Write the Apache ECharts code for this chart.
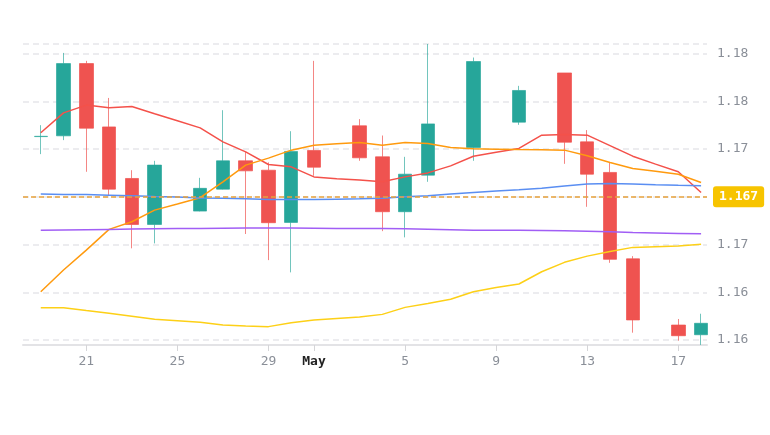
<!DOCTYPE html>
<html>
<head>
<meta charset="utf-8">
<script src="https://cdn.jsdelivr.net/npm/echarts@6/dist/echarts.min.js"></script>
<style>
  html, body { margin: 0; padding: 0; background: #fff; }
  #main { width: 770px; height: 435px; }
</style>
</head>
<body>
<div id="main"></div>
<script>
// day index 0 = Apr 19 ... 29 = May 18
var candleDays = [0, 1, 2, 3, 4, 5, 7, 8, 9, 10, 11, 12, 14, 15, 16, 17, 19, 21, 23, 24, 25, 26, 28, 29];
var opens  = [1.17078, 1.17083, 1.17537, 1.17139, 1.16815, 1.16526, 1.16610, 1.16748, 1.16926, 1.16867, 1.16539, 1.16991, 1.17146, 1.16951, 1.16606, 1.16836, 1.17010, 1.17169, 1.17478, 1.17045, 1.16853, 1.16310, 1.15894, 1.15833];
var closes = [1.17080, 1.17537, 1.17131, 1.16748, 1.16526, 1.16899, 1.16753, 1.16926, 1.16863, 1.16537, 1.16985, 1.16886, 1.16945, 1.16606, 1.16842, 1.17158, 1.17550, 1.17368, 1.17043, 1.16842, 1.16307, 1.15926, 1.15827, 1.15905];
var lows   = [1.16968, 1.17056, 1.16857, 1.16710, 1.16376, 1.16407, 1.16608, 1.16746, 1.16466, 1.16302, 1.16225, 1.16832, 1.16926, 1.16484, 1.16445, 1.16794, 1.16926, 1.17152, 1.16907, 1.16637, 1.16285, 1.15846, 1.15796, 1.15769];
var highs  = [1.17150, 1.17604, 1.17554, 1.17321, 1.16867, 1.16926, 1.16819, 1.17244, 1.16982, 1.16916, 1.17112, 1.17554, 1.17188, 1.17085, 1.16951, 1.17660, 1.17575, 1.17397, 1.17478, 1.17119, 1.16918, 1.16327, 1.15932, 1.15965];

// indicator lines, one value per day (Apr 19 .. May 18)
var redLine = [1.17102, 1.17227, 1.17276, 1.17259, 1.17267, 1.17222, 1.17178, 1.17133, 1.17045, 1.16982, 1.16903, 1.16888, 1.16825, 1.16814, 1.16805, 1.16794, 1.16825, 1.16850, 1.16894, 1.16955, 1.16980, 1.17004, 1.17087, 1.17092, 1.17087, 1.17021, 1.16955, 1.16905, 1.16857, 1.16727];
var orangeLine = [1.16103, 1.16240, 1.16365, 1.16495, 1.16543, 1.16616, 1.16654, 1.16694, 1.16794, 1.16899, 1.16943, 1.16993, 1.17024, 1.17033, 1.17041, 1.17024, 1.17041, 1.17035, 1.17010, 1.17001, 1.16999, 1.16997, 1.16996, 1.16993, 1.16958, 1.16915, 1.16878, 1.16861, 1.16842, 1.16790];
var blueLine = [1.16717, 1.16715, 1.16714, 1.16710, 1.16706, 1.16701, 1.16698, 1.16693, 1.16690, 1.16687, 1.16683, 1.16683, 1.16683, 1.16685, 1.16687, 1.16690, 1.16700, 1.16706, 1.16717, 1.16727, 1.16736, 1.16744, 1.16754, 1.16767, 1.16780, 1.16783, 1.16781, 1.16776, 1.16772, 1.16769];
var purpleLine = [1.16489, 1.16491, 1.16493, 1.16495, 1.16497, 1.16499, 1.16500, 1.16501, 1.16502, 1.16503, 1.16503, 1.16503, 1.16502, 1.16501, 1.16501, 1.16501, 1.16499, 1.16496, 1.16493, 1.16490, 1.16489, 1.16489, 1.16488, 1.16486, 1.16484, 1.16480, 1.16476, 1.16473, 1.16470, 1.16467];
var yellowLine = [1.16003, 1.16003, 1.15985, 1.15968, 1.15949, 1.15930, 1.15921, 1.15911, 1.15894, 1.15888, 1.15884, 1.15909, 1.15926, 1.15935, 1.15944, 1.15961, 1.16005, 1.16030, 1.16056, 1.16103, 1.16130, 1.16152, 1.16229, 1.16288, 1.16327, 1.16356, 1.16382, 1.16386, 1.16390, 1.16401];

var lastPrice = 1.167;

// axis ticks
var xTickDays = [2, 6, 10, 12, 16, 20, 24, 28];
var xTickLabels = ['21', '25', '29', 'May', '5', '9', '13', '17'];
var yTickVals = [1.158, 1.161, 1.164, 1.167, 1.170, 1.173, 1.176];
var yTickLabels = ['1.16', '1.16', '1.17', '', '1.17', '1.18', '1.18'];

var chart = echarts.init(document.getElementById('main'));

var candleData = candleDays.map(function (d, i) {
    return [d, opens[i], closes[i], lows[i], highs[i]];
});
function lineData(arr) {
    return arr.map(function (v, i) { return [i, v]; });
}
function lineSeries(name, arr, color) {
    return {
        name: name,
        type: 'line',
        data: lineData(arr),
        showSymbol: false,
        lineStyle: { color: color, width: 1.5 },
        itemStyle: { color: color },
        z: 3
    };
}

var mono = 'DejaVu Sans Mono, monospace';

chart.setOption({
    animation: false,
    grid: { left: 23, right: 63, top: 44, bottom: 95 },
    xAxis: {
        type: 'value',
        min: -0.78,
        max: 29.26,
        offset: 5,
        splitLine: { show: false },
        axisLine: { lineStyle: { color: '#e3e3e6', width: 2 } },
        axisTick: { customValues: xTickDays, length: 6, lineStyle: { color: '#d5d5d8' } },
        axisLabel: {
            customValues: xTickDays,
            margin: 10,
            color: '#8a8f98',
            fontFamily: mono,
            fontSize: 13,
            formatter: function (v) {
                var i = xTickDays.indexOf(Math.round(v));
                if (i < 0) return '';
                var t = xTickLabels[i];
                return t === 'May' ? '{b|' + t + '}' : t;
            },
            rich: { b: { fontWeight: 'bold', color: '#222', fontFamily: mono, fontSize: 13 } }
        }
    },
    yAxis: {
        type: 'value',
        position: 'right',
        min: 1.158,
        max: 1.1766,
        interval: 0.003,
        scale: true,
        axisLine: { show: false },
        axisTick: { show: false },
        splitLine: { lineStyle: { color: '#e6e6ea', type: [6, 4], width: 1.5 } },
        axisLabel: {
            margin: 10,
            color: '#8a8f98',
            fontFamily: mono,
            fontSize: 13,
            showMaxLabel: false,
            formatter: function (v) {
                for (var i = 0; i < yTickVals.length; i++) {
                    if (Math.abs(yTickVals[i] - v) < 1e-6) return yTickLabels[i];
                }
                return '';
            }
        }
    },
    series: [
        {
            type: 'candlestick',
            data: candleData,
            barWidth: 14,
            clip: false,
            itemStyle: {
                color: '#26a69a',
                color0: '#ef5350',
                borderColor: 'rgba(38,166,154,0.65)',
                borderColor0: 'rgba(239,83,80,0.7)',
                borderWidth: 1
            },
            markLine: {
                silent: true,
                symbol: 'none',
                precision: 5,
                data: [{ yAxis: lastPrice }],
                lineStyle: { color: '#e8a33d', type: [5, 3], width: 1.5 },
                label: {
                    position: 'end',
                    distance: 6,
                    formatter: function () { return lastPrice.toFixed(3); },
                    color: '#fff',
                    fontFamily: mono,
                    fontSize: 13,
                    fontWeight: 'bold',
                    backgroundColor: '#f7c400',
                    borderRadius: 3,
                    padding: [4, 6]
                }
            }
        },
        lineSeries('red', redLine, '#f4514a'),
        lineSeries('orange', orangeLine, '#ff9a0e'),
        lineSeries('blue', blueLine, '#5a8ef2'),
        lineSeries('purple', purpleLine, '#a15ef5'),
        lineSeries('yellow', yellowLine, '#fdd017')
    ]
});
</script>
</body>
</html>
